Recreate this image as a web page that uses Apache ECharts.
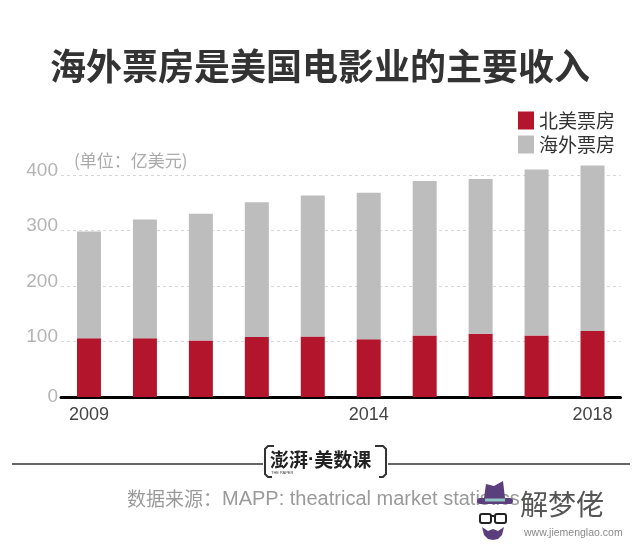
<!DOCTYPE html>
<html><head><meta charset="utf-8">
<script src="https://cdn.jsdelivr.net/npm/echarts@6/dist/echarts.min.js"></script>
<style>html,body{margin:0;padding:0;background:#fff}#c{width:640px;height:546px}</style>
</head><body><div id="c"></div>
<script>
const years = ['2009','2010','2011','2012','2013','2014','2015','2016','2017','2018'];
const northAmerica = [106,106,102,108,109,104,111,114,111,119];
const overseas = [192,214,228,243,254,264,278,279,299,298];
const yTicks = [0,100,200,300,400];
const seriesNames = ['北美票房','海外票房'];
const shownYearIdx = [0,5,9];

const CJK = '"Noto Sans CJK SC", sans-serif';
const LAT = '"Liberation Sans", "Noto Sans CJK SC", sans-serif';
const chart = echarts.init(document.getElementById('c'), null, {renderer:'canvas'});
chart.setOption({
  animation:false,
  backgroundColor:'#fff',
  title:{text:'海外票房是美国电影业的主要收入',left:'center',top:43,
    textStyle:{fontFamily:CJK,fontSize:36,fontWeight:'bold',color:'#333'}},
  legend:{orient:'vertical',left:513,top:106,itemWidth:16,itemHeight:18,itemGap:5,icon:'rect',
    data:seriesNames,textStyle:{fontFamily:CJK,fontSize:19,color:'#333'}},
  grid:{left:61,right:19.5,top:175,bottom:149},
  xAxis:{type:'category',data:years,
    axisLine:{lineStyle:{color:'#000',width:3}},
    axisTick:{show:false},
    axisLabel:{interval:(i)=>shownYearIdx.indexOf(i)>=0,margin:9,
      fontFamily:LAT,fontSize:18,color:'#444'}},
  yAxis:{type:'value',min:yTicks[0],max:yTicks[yTicks.length-1],interval:100,
    axisLine:{show:false},axisTick:{show:false},
    splitLine:{lineStyle:{color:'#d6d6d6',type:[3,3],width:1}},
    axisLabel:{margin:3,fontFamily:LAT,fontSize:19,color:'#b4b4b4',
      formatter:(v)=>v===0?'{z|0}':'{n|'+v+'}',
      rich:{z:{fontFamily:LAT,fontSize:19,color:'#b4b4b4'},
            n:{fontFamily:LAT,fontSize:19,color:'#b4b4b4',padding:[0,0,9,0]}}}},
  series:[
    {name:seriesNames[0],type:'bar',stack:'t',data:northAmerica,barWidth:24,clip:false,
      itemStyle:{color:'#b3152c'}},
    {name:seriesNames[1],type:'bar',stack:'t',data:overseas,barWidth:24,clip:false,
      itemStyle:{color:'#bdbdbd'}}
  ],
  graphic:[
    {type:'text',left:74,top:152,style:{text:'(单位：亿美元)',font:'17px '+CJK,fill:'#aaa'}},
    {type:'line',shape:{x1:12,y1:464,x2:263,y2:464},style:{stroke:'#333',lineWidth:1.5}},
    {type:'line',shape:{x1:388,y1:464,x2:630,y2:464},style:{stroke:'#333',lineWidth:1.5}},
    {type:'polyline',shape:{points:[[274,446],[268,446],[265,449],[265,474],[268,477],[272,477]]},
      style:{stroke:'#333',lineWidth:2,fill:null}},
    {type:'polyline',shape:{points:[[375,446],[383,446],[386,449],[386,474],[383,477],[379,477]]},
      style:{stroke:'#333',lineWidth:2,fill:null}},
    {type:'text',left:270,top:450,style:{text:'{a|澎湃}{d|·}{a|美数课}',
      rich:{a:{font:'bold 19px '+CJK,fill:'#222'},d:{font:'bold 19px '+LAT,fill:'#222'}}}},
    {type:'text',left:271,top:471,style:{text:'THE PAPER',font:'4px '+LAT,fill:'#444'}},
    {type:'text',left:127,top:489,style:{text:'{a|数据来源：}{b|MAPP: theatrical market statistics}',
      rich:{a:{font:'19px '+CJK,fill:'#9a9a9a'},b:{font:'20px '+LAT,fill:'#9a9a9a'}}}},
    {type:'polygon',shape:{points:[[484,498],[486,484],[494,486],[503,481],[505,498]]},style:{fill:'#5b3f7d'}},
    {type:'rect',shape:{x:477,y:498,width:36,height:6,r:3},style:{fill:'#5b3f7d'}},
    {type:'rect',shape:{x:485,y:498.5,width:20,height:3},style:{fill:'#8fc7c0'}},
    {type:'rect',shape:{x:480,y:514,width:11,height:9,r:2},style:{stroke:'#222',lineWidth:2,fill:null}},
    {type:'rect',shape:{x:495,y:514,width:11,height:9,r:2},style:{stroke:'#222',lineWidth:2,fill:null}},
    {type:'line',shape:{x1:491,y1:516,x2:495,y2:516},style:{stroke:'#222',lineWidth:2}},
    {type:'polygon',shape:{points:[[482,527],[484,535],[488,539],[493,540],[498,539],[502,535],[504,527],[498,531],[493,529],[488,531]]},style:{fill:'#5b3f7d'}},
    {type:'text',left:520,top:490,style:{text:'解梦佬',font:'28px '+CJK,fill:'#555'}},
    {type:'text',left:524,top:528,style:{text:'www.jiemenglao.com',font:'10.5px '+LAT,fill:'#888'}}
  ]
});
</script></body></html>
